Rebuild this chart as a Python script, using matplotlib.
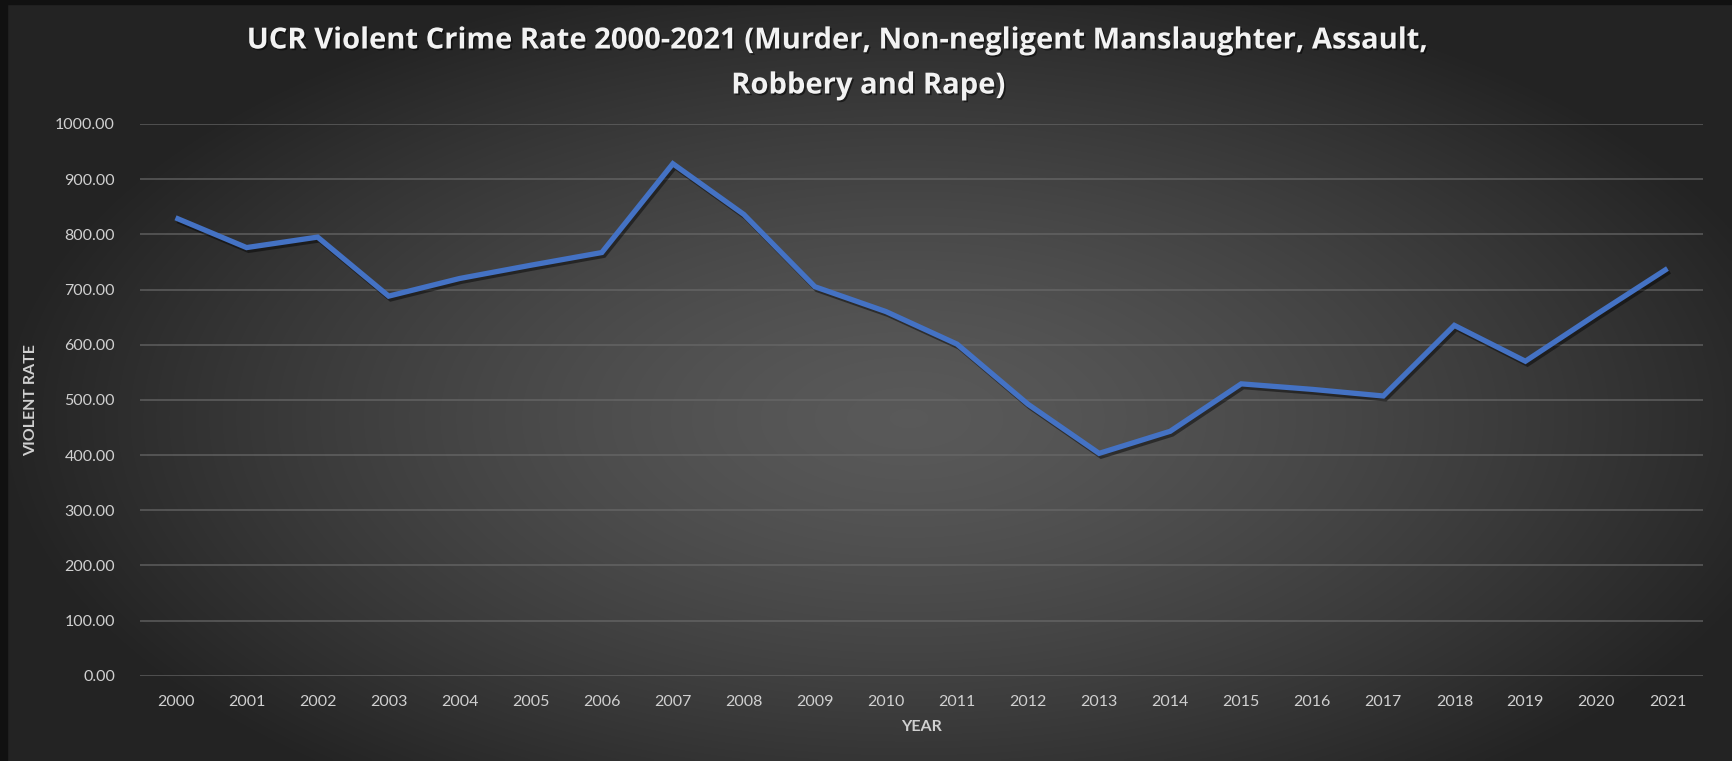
import numpy as np
import matplotlib
matplotlib.use("Agg")
from matplotlib import pyplot as plt
from matplotlib import patheffects as pe

# data
years = [2000, 2001, 2002, 2003, 2004, 2005, 2006, 2007, 2008, 2009, 2010,
         2011, 2012, 2013, 2014, 2015, 2016, 2017, 2018, 2019, 2020, 2021]
violent_rate = [830, 776, 795, 688, 720, 744, 767, 928, 836, 705, 660,
                601, 492, 403, 443, 529, 519, 507, 635, 570, 655, 738]
y_ticks = [0, 100, 200, 300, 400, 500, 600, 700, 800, 900, 1000]

plt.rcParams['font.family'] = ['Lato', 'DejaVu Sans']

W, H = 1732, 761
fig = plt.figure(figsize=(W / 100, H / 100), dpi=100)

# radial gradient background
bg = fig.add_axes([0, 0, 1, 1], zorder=-10)
gx, gy = np.meshgrid(np.linspace(-1, 1, 400), np.linspace(-1, 1, 200))
r = np.clip(np.sqrt(((gx - 0.05) / 1.05) ** 2 + ((gy - 0.1) / 1.2) ** 2), 0, 1)
shade = 0.35 - 0.21 * r ** 1.4
bg.imshow(np.dstack([shade, shade, shade]), extent=[0, 1, 0, 1],
          aspect='auto', interpolation='bilinear')
# dark frame on the left/top
bg.axvspan(0, 7 / W, color='#111111')
bg.axhspan(1 - 4 / H, 1, color='#111111')
bg.set_xlim(0, 1)
bg.set_ylim(0, 1)
bg.axis('off')

ax = fig.add_axes([140 / W, 1 - 675.7 / H, (1703 - 140) / W, (675.7 - 124) / H])
ax.patch.set_alpha(0)

x = np.arange(len(years))
ax.plot(x, violent_rate, color='#4472C4', lw=3.8, solid_joinstyle='miter',
        solid_capstyle='butt', zorder=3,
        path_effects=[pe.SimpleLineShadow(offset=(1.5, -2), shadow_color='black', alpha=0.45),
                      pe.Normal()])

ax.set_xlim(-0.5, len(years) - 0.5)
ax.set_ylim(0, 1000)
ax.set_yticks(y_ticks)
ax.set_yticklabels([f"{v:.2f}" for v in y_ticks])
ax.set_xticks(x)
ax.set_xticklabels([str(y) for y in years])
ax.grid(axis='y', color='#6a6a6a', lw=1.1, alpha=0.8)
ax.set_axisbelow(True)
for s in ax.spines.values():
    s.set_visible(False)
ax.tick_params(length=0, colors='#d0d0d0', labelsize=11.5)
ax.tick_params(axis='y', pad=18)
ax.tick_params(axis='x', pad=14)

ax.set_xlabel("YEAR", color='#d0d0d0', fontsize=11.5, fontweight='bold', labelpad=8)
ax.set_ylabel("VIOLENT RATE", color='#d0d0d0', fontsize=11.5, fontweight='bold', labelpad=12)

# title, two wrapped lines
title_kw = dict(ha='center', va='center', color='#f2f2f2', fontsize=21, fontweight='bold',
                family=['Open Sans', 'DejaVu Sans'],
                path_effects=[pe.withSimplePatchShadow(offset=(1.2, -1.2),
                                                       shadow_rgbFace='black', alpha=0.5)])
fig.text(837 / W, 1 - 41 / H,
         "UCR Violent Crime Rate 2000-2021 (Murder, Non-negligent Manslaughter, Assault,",
         **title_kw)
fig.text(868 / W, 1 - 86 / H, "Robbery and Rape)", **title_kw)

fig.savefig("out.png", dpi=100)
